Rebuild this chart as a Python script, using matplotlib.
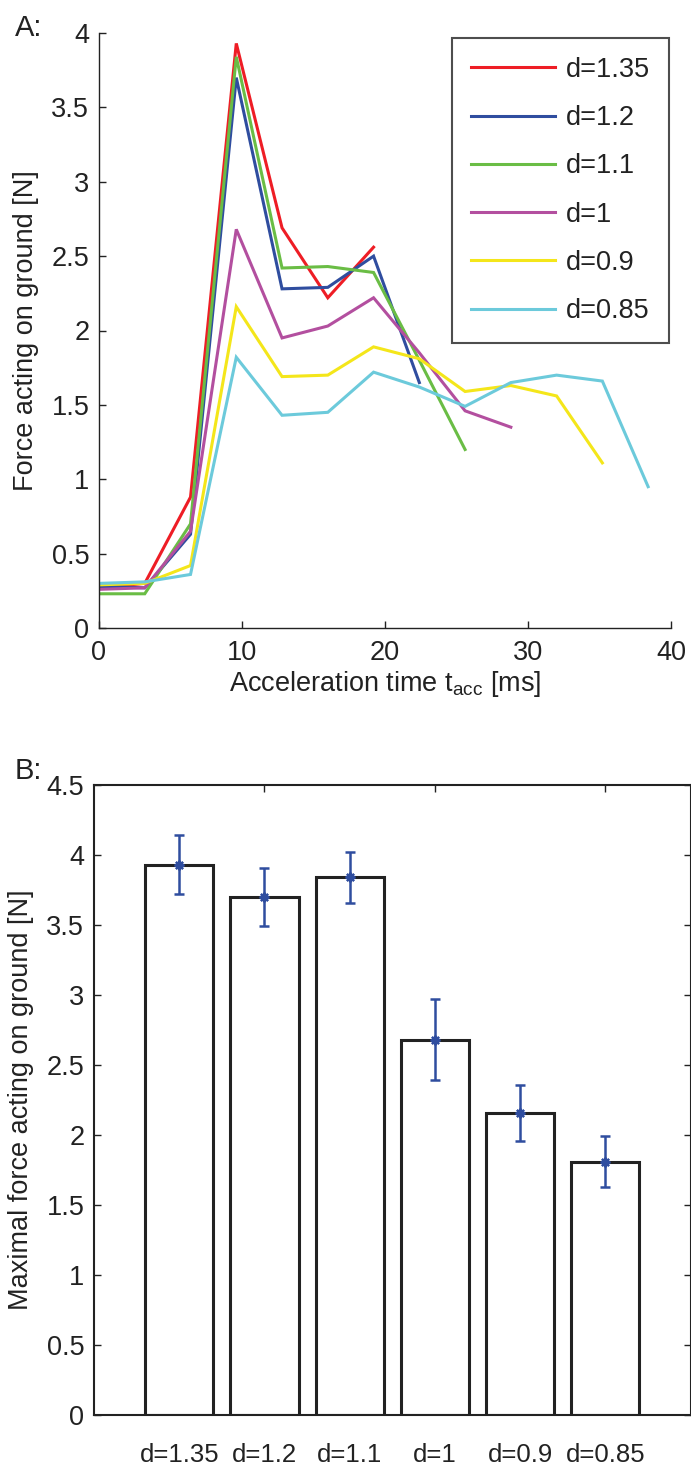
import numpy as np
import matplotlib
matplotlib.use('Agg')
import matplotlib.pyplot as plt

plt.rcParams['font.family'] = ['Liberation Sans', 'DejaVu Sans']
plt.rcParams['mathtext.fontset'] = 'custom'
plt.rcParams['mathtext.rm'] = 'Liberation Sans'
plt.rcParams['font.size'] = 19.5

# panel A: force over acceleration time for each d
t_acc = [0, 3.2, 6.4, 9.6, 12.8, 16.0, 19.2, 22.4, 25.6, 28.8, 32.0, 35.2, 38.4]
series_labels = ['d=1.35', 'd=1.2', 'd=1.1', 'd=1', 'd=0.9', 'd=0.85']
force_135 = [0.27, 0.30, 0.88, 3.93, 2.69, 2.22, 2.56]
force_12 = [0.28, 0.27, 0.63, 3.70, 2.28, 2.29, 2.50, 1.65]
force_11 = [0.23, 0.23, 0.70, 3.84, 2.42, 2.43, 2.39, 1.80, 1.20]
force_1 = [0.26, 0.27, 0.65, 2.68, 1.95, 2.03, 2.22, 1.85, 1.46, 1.35]
force_09 = [0.29, 0.30, 0.42, 2.16, 1.69, 1.70, 1.89, 1.81, 1.59, 1.63, 1.56, 1.11]
force_085 = [0.30, 0.31, 0.36, 1.82, 1.43, 1.45, 1.72, 1.62, 1.49, 1.65, 1.70, 1.66, 0.95]
colors = ['#ee1d25', '#2f4d9f', '#6abd45', '#b34f9f', '#f4e61a', '#6ccadb']

# panel B: maximal force with error
max_force = [3.93, 3.70, 3.84, 2.68, 2.16, 1.81]
max_err = [0.21, 0.21, 0.18, 0.29, 0.20, 0.18]

W, H = 691, 1473
fig = plt.figure(figsize=(W / 100, H / 100), dpi=100)
dark = '#222222'

# ---- A ----
ax1 = fig.add_axes([99 / W, 1 - 628 / H, 572 / W, 595 / H])
all_force = [force_135, force_12, force_11, force_1, force_09, force_085]
for f, c, lab in zip(all_force, colors, series_labels):
    ax1.plot(t_acc[:len(f)], f, color=c, lw=2.2, label=lab, solid_joinstyle='miter')
ax1.set_xlim(0, 40)
ax1.set_ylim(0, 4)
ax1.set_xticks([0, 10, 20, 30, 40])
ax1.set_yticks(np.arange(0, 4.01, 0.5))
ax1.set_yticklabels(['0', '0.5', '1', '1.5', '2', '2.5', '3', '3.5', '4'])
ax1.spines['top'].set_visible(False)
ax1.spines['right'].set_visible(False)
for s in ['left', 'bottom']:
    ax1.spines[s].set_color(dark)
    ax1.spines[s].set_linewidth(1.0)
ax1.tick_params(direction='in', length=5, width=1, colors=dark)
ax1.tick_params(axis='x', pad=9)
ax1.tick_params(axis='y', pad=7)
ax1.set_xlabel(r'Acceleration time t$_{\mathrm{acc}}$ [ms]', color=dark, labelpad=2)
ax1.set_ylabel('Force acting on ground [N]', color=dark, labelpad=9)
leg = ax1.legend(loc='upper right', bbox_to_anchor=(669 / W, 1 - 38 / H),
                 bbox_transform=fig.transFigure, borderaxespad=0,
                 fancybox=False, handlelength=3.1, handletextpad=0.4,
                 labelspacing=0.82, borderpad=0.7, fontsize=19.5)
leg.get_frame().set_edgecolor(dark)
leg.get_frame().set_linewidth(1.5)
for txt in leg.get_texts():
    txt.set_color(dark)

fig.text(15 / W, 1 - 28 / H, 'A:', fontsize=21, va='center', ha='left', color=dark)

# ---- B ----
ax2 = fig.add_axes([94 / W, 1 - 1415 / H, 596.5 / W, 630 / H])
pos = np.arange(1, len(max_force) + 1)
ax2.bar(pos, max_force, width=0.8, color='white', edgecolor=dark, linewidth=2.2, zorder=2)
ax2.errorbar(pos, max_force, yerr=max_err, fmt='none', ecolor='#2f4d9f',
             elinewidth=1.8, capsize=3.5, capthick=1.8, zorder=3)
ax2.plot(pos, max_force, ls='none', marker=(8, 2, 0), ms=7, mew=1.6,
         color='#2f4d9f', zorder=4)
ax2.set_xlim(0, 7)
ax2.set_ylim(0, 4.5)
ax2.set_yticks(np.arange(0, 4.51, 0.5))
ax2.set_yticklabels(['0', '0.5', '1', '1.5', '2', '2.5', '3', '3.5', '4', '4.5'])
ax2.set_xticks(pos)
ax2.set_xticklabels(series_labels, fontsize=18.5)
ax2.tick_params(axis='x', length=0, pad=20, colors=dark)
ax2.tick_params(axis='y', direction='in', length=5, width=1, right=True, colors=dark, pad=7)
for s in ax2.spines.values():
    s.set_color(dark)
    s.set_linewidth(1.5)
top = ax2.secondary_xaxis('top')
top.set_xticks([2, 4, 6])
top.tick_params(direction='in', length=5, width=1, labeltop=False, colors=dark)
top.spines['top'].set_visible(False)
ax2.set_ylabel('Maximal force acting on ground [N]', color=dark, labelpad=9)

fig.text(15 / W, 1 - 771 / H, 'B:', fontsize=21, va='center', ha='left', color=dark)

fig.savefig('out.png', dpi=100)
